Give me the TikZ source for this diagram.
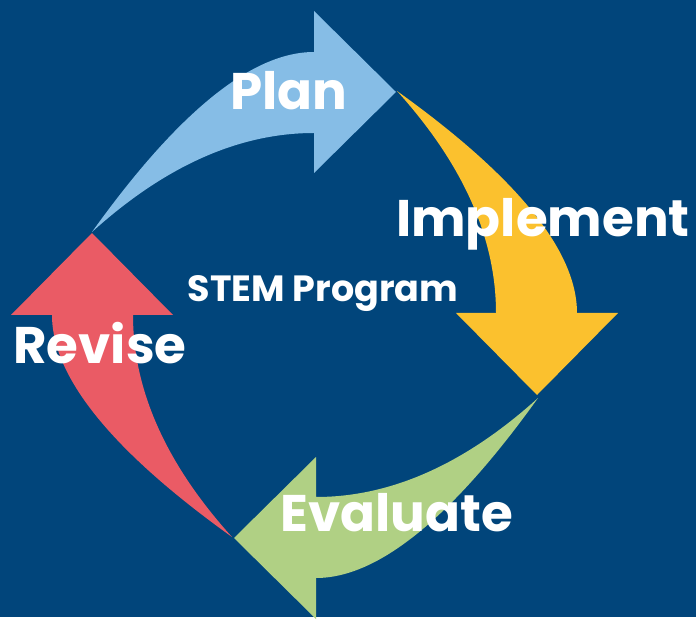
\documentclass[tikz,border=0pt]{standalone}
\usepackage{fontspec}
\setmainfont{Poppins}
\definecolor{bgblue}{HTML}{01457B}
\definecolor{planblue}{HTML}{86BDE6}
\definecolor{implyellow}{HTML}{FBC12E}
\definecolor{evalgreen}{HTML}{B0D084}
\definecolor{revisered}{HTML}{EA5B65}
\tikzset{
	cyclearrow/.pic = {
		\fill[pic actions] (0,0) -- (-82,81) -- (-82,40) .. controls (-144,40) and (-218,-20) .. (-304,-140)
		.. controls (-231,-74) and (-157,-41) .. (-82,-41) -- (-82,-81) -- cycle;
	},
	phase/.style = {text = white, font = \fontsize{51.5}{60}\selectfont\bfseries, inner sep = 0pt, anchor = base},
}

\begin{document}
\begin{tikzpicture}[x = 1pt, y = 1pt]%循环
	\fill[bgblue] (0,0) rectangle (696,617);
	% tips of the four arrows
	\coordinate (TP) at (396,525);
	\coordinate (TI) at (537,222);
	\coordinate (TE) at (234,79);
	\coordinate (TR) at (92,384);
	\pic[fill = planblue] at (TP) {cyclearrow};
	\pic[fill = implyellow, rotate = -90] at (TI) {cyclearrow};
	\pic[fill = evalgreen, rotate = 180] at (TE) {cyclearrow};
	\pic[fill = revisered, rotate = 90] at (TR) {cyclearrow};
	% labels
	\node[phase] (plan) at (289,507) {Plan};
	\node[phase] (impl) at (543,380) {Implement};
	\node[phase] (eval) at (397,86) {Evaluate};
	\node[phase] (rev) at (100,254) {Revise};
	\node[phase, font = \fontsize{36.5}{44}\selectfont\bfseries] (stem) at (323,315) {STEM Program};
\end{tikzpicture}
\end{document}
